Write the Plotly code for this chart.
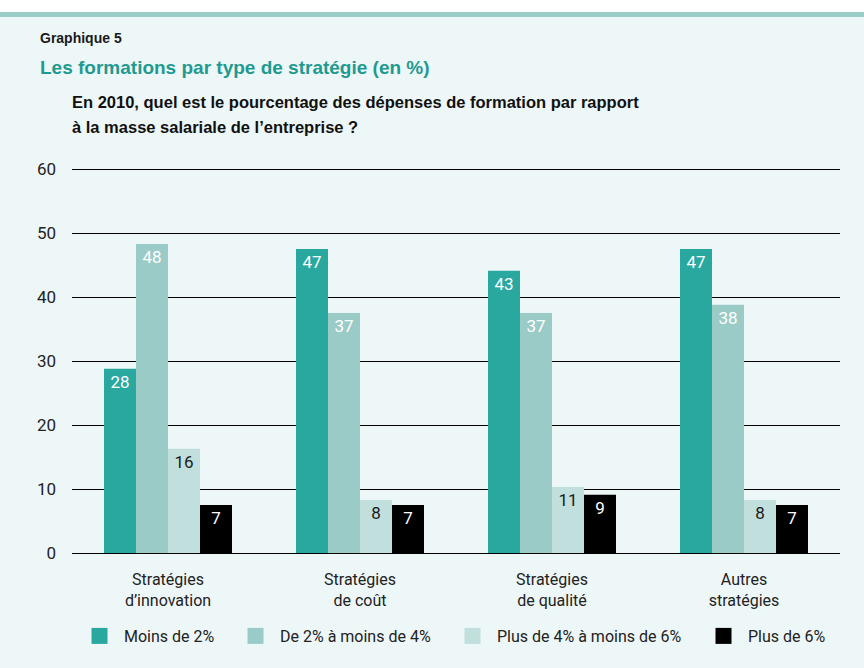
import plotly.graph_objects as go

# ---- data ----
categories = ["Stratégies<br>d’innovation", "Stratégies<br>de coût",
              "Stratégies<br>de qualité", "Autres<br>stratégies"]
series_names = ["Moins de 2%", "De 2% à moins de 4%",
                "Plus de 4% à moins de 6%", "Plus de 6%"]
moins_2 = [28.8, 47.5, 44.1, 47.5]
de_2_a_4 = [48.3, 37.5, 37.5, 38.8]
de_4_a_6 = [16.3, 8.3, 10.3, 8.3]
plus_6 = [7.5, 7.5, 9.1, 7.5]
labels_moins_2 = ["28", "47", "43", "47"]
labels_de_2_a_4 = ["48", "37", "37", "38"]
labels_de_4_a_6 = ["16", "8", "11", "8"]
labels_plus_6 = ["7", "7", "9", "7"]
y_ticks = [0, 10, 20, 30, 40, 50, 60]

# ---- style ----
colors = ["#29a89f", "#9acbc7", "#c1dfdd", "#000000"]
label_colors = ["#ffffff", "#ffffff", "#1a1a1a", "#ffffff"]
BG = "#eef7f8"
FONT = "Roboto, Liberation Sans, sans-serif"
BOLD = "Liberation Sans, Arial, sans-serif"

W, H = 864, 668
L, R, T, B = 72, 24, 168, 115
ph = H - T - B
pw = W - L - R


def px_x(px):
    return (px - L) / pw


def px_y(py):
    return (H - B - py) / ph


values = [moins_2, de_2_a_4, de_4_a_6, plus_6]
labels = [labels_moins_2, labels_de_2_a_4, labels_de_4_a_6, labels_plus_6]
legend_ids = ["legend", "legend2", "legend3", "legend4"]
legend_sym_centers = [99.5, 255.5, 472.5, 723.5]

fig = go.Figure()
for name, vals, labs, col, lcol, lid in zip(series_names, values, labels, colors,
                                            label_colors, legend_ids):
    fig.add_trace(go.Bar(
        x=categories, y=vals, name=name, text=labs,
        textposition="inside", insidetextanchor="end",
        textfont=dict(family=FONT, size=17, color=lcol),
        constraintext="none",
        marker=dict(color=col, line=dict(width=0)),
        hoverinfo="skip", showlegend=False,
    ))
    # legend entry (larger square swatch, like the reference)
    fig.add_trace(go.Scatter(
        x=[None], y=[None], mode="markers", name=name,
        marker=dict(symbol="square", size=16, color=col),
        legend=lid, showlegend=True, hoverinfo="skip",
    ))

legend_layout = {}
for lid, c in zip(legend_ids, legend_sym_centers):
    legend_layout[lid] = dict(
        orientation="h", x=px_x(c - 24.5), xanchor="left",
        y=px_y(636), yanchor="middle", itemwidth=39, itemsizing="trace",
        font=dict(family=FONT, size=16, color="#222222"),
        bgcolor="rgba(0,0,0,0)", borderwidth=0,
    )

fig.update_layout(
    width=W, height=H, autosize=False,
    margin=dict(l=L, r=R, t=T, b=B, pad=0),
    paper_bgcolor=BG, plot_bgcolor=BG,
    barmode="group", bargap=1/3, bargroupgap=0,
    font=dict(family=FONT, size=16, color="#222222"),
    showlegend=True,
    xaxis=dict(showgrid=False, showline=False, zeroline=False,
               ticks="outside", ticklen=12, tickcolor="rgba(0,0,0,0)",
               tickfont=dict(family=FONT, size=16, color="#222222")),
    yaxis=dict(range=[0, 60.16], tickvals=y_ticks, showgrid=True, gridcolor="#000000",
               gridwidth=1, zeroline=True, zerolinecolor="#000000", zerolinewidth=1,
               showline=False, ticks="", ticklabelstandoff=15,
               tickfont=dict(family=FONT, size=17, color="#222222"), fixedrange=True),
    shapes=[
        dict(type="rect", xref="paper", yref="paper", x0=px_x(0), x1=px_x(W),
             y0=px_y(12), y1=px_y(0), fillcolor="#ffffff", line=dict(width=0), layer="below"),
        dict(type="rect", xref="paper", yref="paper", x0=px_x(0), x1=px_x(W),
             y0=px_y(17), y1=px_y(12), fillcolor="#99cdc8", line=dict(width=0), layer="below"),
    ],
    annotations=[
        dict(text="<b>Graphique 5</b>", xref="paper", yref="paper", x=px_x(38), y=px_y(38),
             xanchor="left", yanchor="middle", showarrow=False,
             font=dict(family=BOLD, size=14, color="#1a1a1a")),
        dict(text="<b>Les formations par type de stratégie (en %)</b>", xref="paper", yref="paper",
             x=px_x(38), y=px_y(68), xanchor="left", yanchor="middle", showarrow=False,
             font=dict(family=BOLD, size=19, color="#1f9a90")),
        dict(text="<b>En 2010, quel est le pourcentage des dépenses de formation par rapport</b>",
             xref="paper", yref="paper", x=px_x(70), y=px_y(102), xanchor="left", yanchor="middle",
             showarrow=False, font=dict(family=BOLD, size=16.5, color="#111111")),
        dict(text="<b>à la masse salariale de l’entreprise ?</b>",
             xref="paper", yref="paper", x=px_x(70), y=px_y(127), xanchor="left", yanchor="middle",
             showarrow=False, font=dict(family=BOLD, size=16.5, color="#111111")),
    ],
    **legend_layout,
)

fig.write_html("out.html")
